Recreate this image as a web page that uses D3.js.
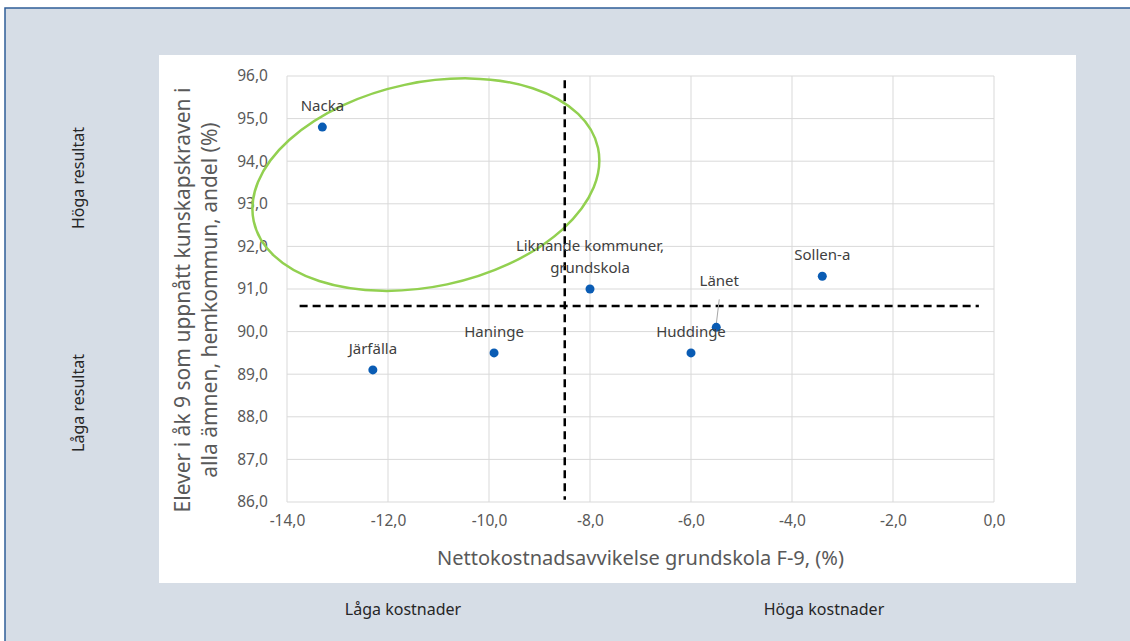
<!DOCTYPE html>
<html>
<head>
<meta charset="utf-8">
<script src="https://cdn.jsdelivr.net/npm/d3@7"></script>
<style>
  body { margin: 0; background: #fff; }
  svg text { font-family: "Noto Sans", "Open Sans", sans-serif; }
</style>
</head>
<body>
<div id="chart"></div>
<script>
// kommuner och värden
var names = ["Nacka", "Järfälla", "Haninge", "Liknande kommuner, grundskola", "Huddinge", "Länet", "Sollen-a"];
var costs = [-13.3, -12.3, -9.9, -8.0, -6.0, -5.5, -3.4];
var results = [94.8, 89.1, 89.5, 91.0, 89.5, 90.1, 91.3];

var xTicks = [-14, -12, -10, -8, -6, -4, -2, 0];
var yTicks = [86, 87, 88, 89, 90, 91, 92, 93, 94, 95, 96];

// streckade referenslinjer
var refCost = -8.5;
var refResult = 90.6;

var width = 1130,
    height = 641;

var svg = d3.select("#chart").append("svg")
    .attr("width", width)
    .attr("height", height);

// bakgrund + ram
svg.append("rect")
    .attr("x", 5).attr("y", 8)
    .attr("width", width + 10).attr("height", height + 10)
    .style("fill", "#d6dde6")
    .style("stroke", "#2f5d98")
    .style("stroke-width", 1.5);

svg.append("rect")
    .attr("x", 159).attr("y", 55)
    .attr("width", 917).attr("height", 528)
    .style("fill", "#fff");

var x = d3.scaleLinear().domain([-14, 0]).range([287, 994]);
var y = d3.scaleLinear().domain([86, 96]).range([502, 76]);

// rutnät
svg.append("g").selectAll("line")
    .data(yTicks).enter().append("line")
    .attr("x1", x(-14)).attr("x2", x(0))
    .attr("y1", function(d) { return y(d); })
    .attr("y2", function(d) { return y(d); })
    .style("stroke", "#d9d9d9").style("stroke-width", 1);

svg.append("g").selectAll("line")
    .data(xTicks).enter().append("line")
    .attr("y1", y(86)).attr("y2", y(96))
    .attr("x1", function(d) { return x(d); })
    .attr("x2", function(d) { return x(d); })
    .style("stroke", "#d9d9d9").style("stroke-width", 1);

var fmt = function(d) { return d3.format(".1f")(d).replace(".", ",").replace("−", "-"); };

var xAxis = svg.append("g")
    .attr("transform", "translate(0," + (y(86) + 8) + ")")
    .call(d3.axisBottom(x).tickValues(xTicks).tickFormat(fmt).tickSize(0));
var yAxis = svg.append("g")
    .attr("transform", "translate(" + (x(-14) - 16) + ",0)")
    .call(d3.axisLeft(y).tickValues(yTicks).tickFormat(fmt).tickSize(0));

[xAxis, yAxis].forEach(function(a) {
    a.select(".domain").remove();
    a.selectAll("text")
        .style("font-size", "15.5px")
        .style("fill", "#595959");
});
xAxis.selectAll("text").attr("dy", "0.85em");

// axeltitlar
svg.append("text")
    .attr("x", x(-7)).attr("y", 565)
    .attr("text-anchor", "middle")
    .style("font-size", "20px")
    .style("fill", "#595959")
    .text("Nettokostnadsavvikelse grundskola F-9, (%)");

var yTitle = svg.append("text")
    .attr("transform", "translate(190,300) rotate(-90)")
    .attr("text-anchor", "middle")
    .style("font-size", "21px")
    .style("fill", "#595959");
yTitle.append("tspan").attr("x", 0).attr("dy", 0)
    .text("Elever i åk 9 som uppnått kunskapskraven i");
yTitle.append("tspan").attr("x", 0).attr("dy", 27)
    .text("alla ämnen, hemkommun, andel (%)");

// grön ellips runt Nacka-området
var ellipse = { cx: -11.25, cy: 93.45, rx: 176, ry: 102, angle: -12 };
svg.append("ellipse")
    .attr("transform", "translate(" + x(ellipse.cx) + "," + y(ellipse.cy) + ") rotate(" + ellipse.angle + ")")
    .attr("rx", ellipse.rx).attr("ry", ellipse.ry)
    .style("fill", "none")
    .style("stroke", "#92d050")
    .style("stroke-width", 2.5);

// referenslinjer
svg.append("line")
    .attr("x1", x(refCost)).attr("x2", x(refCost))
    .attr("y1", y(95.9)).attr("y2", y(86.05))
    .style("stroke", "#000").style("stroke-width", 2.5)
    .style("stroke-dasharray", "8,5");
svg.append("line")
    .attr("x1", x(-13.75)).attr("x2", x(-0.3))
    .attr("y1", y(refResult)).attr("y2", y(refResult))
    .style("stroke", "#000").style("stroke-width", 2.5)
    .style("stroke-dasharray", "8,5");

var points = names.map(function(n, i) { return { name: n, cost: costs[i], result: results[i] }; });

// etikettförskjutning (px), Länet har ledarlinje
var labelNudge = { "Länet": [3, -41] };

// ledarlinje för Länet
svg.append("line")
    .attr("x1", x(-5.5) + 3).attr("y1", y(90.1) - 28)
    .attr("x2", x(-5.5)).attr("y2", y(90.1) - 3)
    .style("stroke", "#a6a6a6").style("stroke-width", 1);

svg.selectAll("circle.pt")
    .data(points).enter().append("circle")
    .attr("class", "pt")
    .attr("cx", function(d) { return x(d.cost); })
    .attr("cy", function(d) { return y(d.result); })
    .attr("r", 4.5)
    .style("fill", "#0a5cb4");

var labels = svg.selectAll("text.lbl")
    .data(points).enter().append("text")
    .attr("class", "lbl")
    .attr("text-anchor", "middle")
    .style("font-size", "15px")
    .style("fill", "#404040")
    .attr("transform", function(d) {
        var nd = labelNudge[d.name] || [0, -16];
        return "translate(" + (x(d.cost) + nd[0]) + "," + (y(d.result) + nd[1]) + ")";
    });

labels.each(function(d) {
    var t = d3.select(this);
    var parts = d.name.indexOf(", ") > 0 ? [d.name.split(", ")[0] + ",", d.name.split(", ")[1]] : [d.name];
    parts.forEach(function(p, i) {
        t.append("tspan").attr("x", 0)
            .attr("dy", i == 0 ? -(parts.length - 1) * 22 : 22)
            .text(p);
    });
});

// kvadrant-texter
var quadStyle = function(s) {
    return s.attr("text-anchor", "middle")
        .style("font-size", "16px").style("fill", "#262626");
};
svg.append("text")
    .attr("transform", "translate(84,178) rotate(-90)")
    .call(quadStyle)
    .text("Höga resultat");
svg.append("text")
    .attr("transform", "translate(84,403) rotate(-90)")
    .call(quadStyle)
    .text("Låga resultat");
svg.append("text")
    .attr("x", 403).attr("y", 615)
    .call(quadStyle)
    .text("Låga kostnader");
svg.append("text")
    .attr("x", 824).attr("y", 615)
    .call(quadStyle)
    .text("Höga kostnader");
</script>
</body>
</html>
